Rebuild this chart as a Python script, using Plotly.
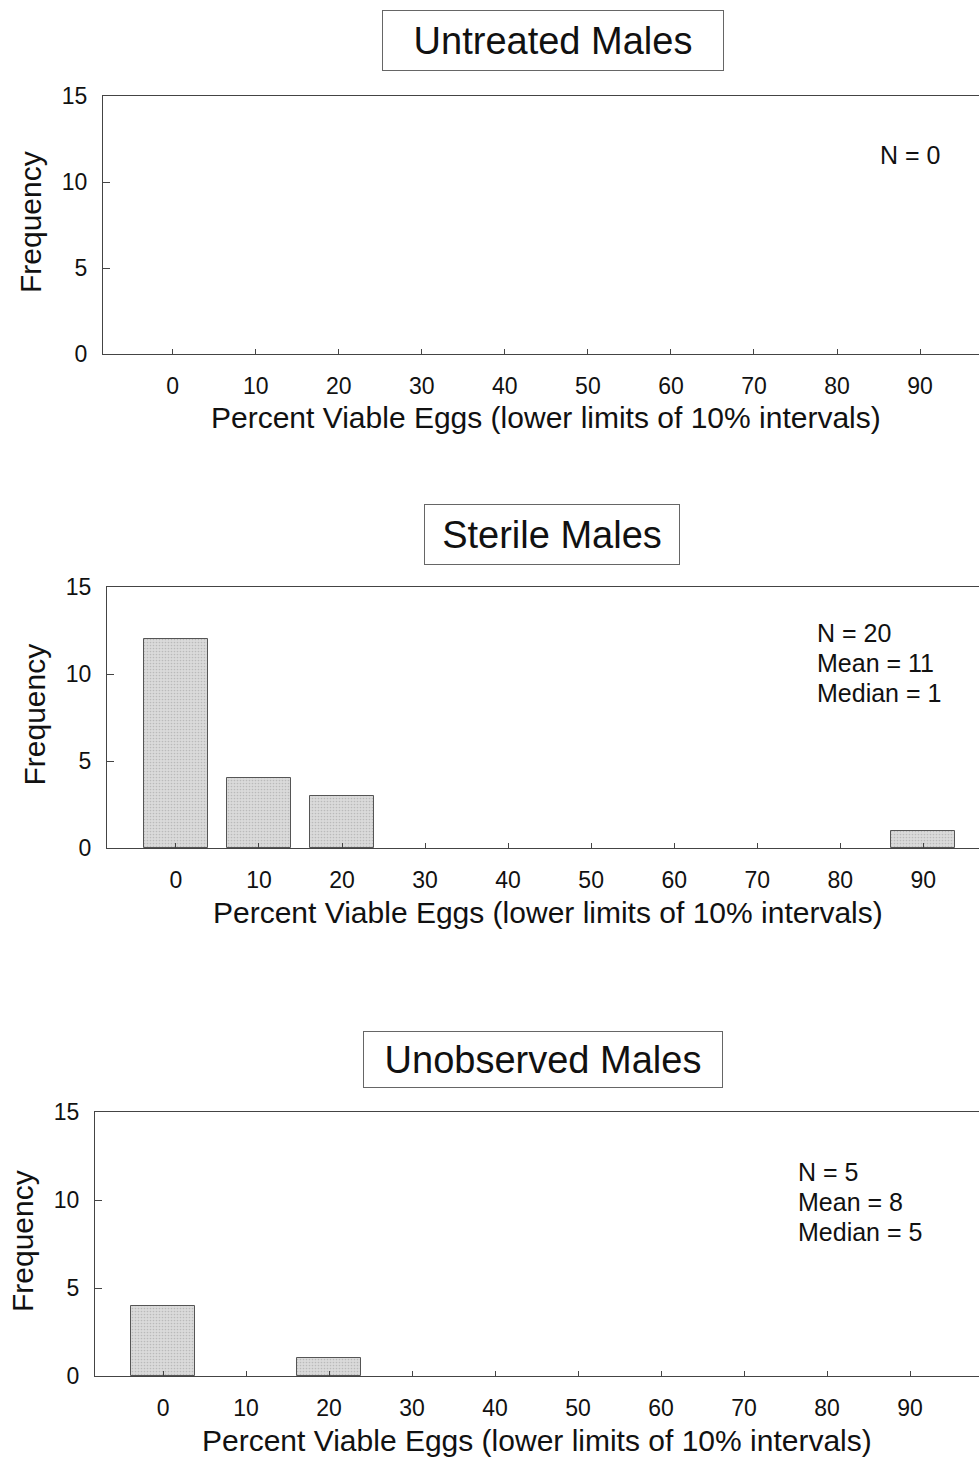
import plotly.graph_objects as go

# ---- data ----
bins = [0, 10, 20, 30, 40, 50, 60, 70, 80, 90]
bin_labels = ["0", "10", "20", "30", "40", "50", "60", "70", "80", "90"]
untreated = [0, 0, 0, 0, 0, 0, 0, 0, 0, 0]
sterile = [12, 4, 3, 0, 0, 0, 0, 0, 0, 1]
unobserved = [4, 0, 1, 0, 0, 0, 0, 0, 0, 0]
titles = ["Untreated Males", "Sterile Males", "Unobserved Males"]
stats = [["N = 0"], ["N = 20", "Mean = 11", "Median = 1"], ["N = 5", "Mean = 8", "Median = 5"]]
y_ticks = [0, 5, 10, 15]
x_title = "Percent Viable Eggs (lower limits of 10% intervals)"

W, H = 979, 1464
FONT = "Liberation Sans, Arial, sans-serif"
AX = "#444444"
TXT = "#111111"

panels = [
    dict(left=103, top=96, bottom=354, xr=[-8.4, 97.1], tcx=553, tcy=41, bw=338, bh=57, sx=878, sy=155, xtc=546),
    dict(left=107, top=587, bottom=848, xr=[-8.3, 96.7], tcx=552, tcy=534, bw=252, bh=57, sx=815, sy=633, xtc=548),
    dict(left=95, top=1112, bottom=1376, xr=[-8.2, 98.3], tcx=543, tcy=1059, bw=356, bh=53, sx=796, sy=1172, xtc=537),
]
series = [untreated, sterile, unobserved]

fig = go.Figure()
annotations = []

def py(p):
    return 1 - p / H

for i, (p, vals) in enumerate(zip(panels, series)):
    n = "" if i == 0 else str(i + 1)
    xa, ya = "x" + n, "y" + n
    fig.add_trace(go.Bar(
        x=bins, y=vals, xaxis=xa, yaxis=ya, width=7.7,
        marker=dict(color="#dadada",
                    line=dict(color="#555555", width=[1 if v > 0 else 0 for v in vals]),
                    pattern=dict(shape=".", fgcolor="#9a9a9a", size=3, solidity=0.25)),
        showlegend=False, hoverinfo="x+y",
    ))
    fig.update_layout(**{
        "xaxis" + n: dict(
            domain=[p["left"] / W, 1], range=p["xr"], anchor=ya, automargin=False,
            tickvals=bins, ticktext=bin_labels, ticks="inside", ticklen=5, tickcolor=AX,
            showline=True, linecolor=AX, linewidth=1, mirror=True,
            showgrid=False, zeroline=False, ticklabelstandoff=11,
            tickfont=dict(family=FONT, size=23, color=TXT),
        ),
        "yaxis" + n: dict(
            domain=[py(p["bottom"]), py(p["top"])], range=[0, 15], anchor=xa, automargin=False,
            tickvals=y_ticks, ticks="inside", ticklen=7, tickcolor=AX,
            showline=True, linecolor=AX, linewidth=1, mirror=False,
            showgrid=False, zeroline=False, ticklabelstandoff=10,
            tickfont=dict(family=FONT, size=23, color=TXT),
        ),
    })
    annotations.append(dict(
        text=titles[i], x=p["tcx"] / W, y=py(p["tcy"]), xref="paper", yref="paper",
        xanchor="center", yanchor="middle", showarrow=False,
        font=dict(family=FONT, size=38, color=TXT),
        bordercolor="#666666", borderwidth=1, width=p["bw"], height=p["bh"], bgcolor="white",
    ))
    annotations.append(dict(
        text=x_title, x=p["xtc"] / W, y=py(p["bottom"] + 64), xref="paper", yref="paper",
        xanchor="center", yanchor="middle", showarrow=False,
        font=dict(family=FONT, size=30, color=TXT),
    ))
    annotations.append(dict(
        text="Frequency", x=(p["left"] - 73) / W, y=py((p["top"] + p["bottom"]) / 2 - 3),
        xref="paper", yref="paper", textangle=-90,
        xanchor="center", yanchor="middle", showarrow=False,
        font=dict(family=FONT, size=30, color=TXT),
    ))
    for k, line in enumerate(stats[i]):
        annotations.append(dict(
            text=line, x=p["sx"] / W, y=py(p["sy"] + 30 * k), xref="paper", yref="paper",
            xanchor="left", yanchor="middle", showarrow=False,
            font=dict(family=FONT, size=25, color=TXT),
        ))

fig.update_layout(
    width=W, height=H, margin=dict(l=0, r=0, t=0, b=0, autoexpand=False),
    paper_bgcolor="white", plot_bgcolor="white",
    annotations=annotations, bargap=0,
)

fig.write_html("out.html")
